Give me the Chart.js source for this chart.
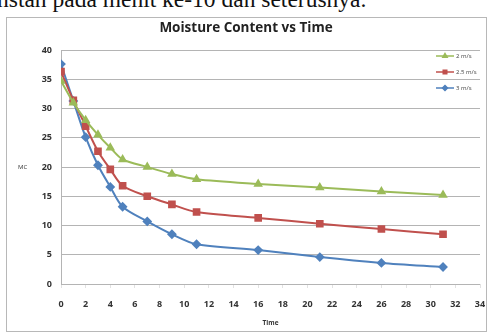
<!DOCTYPE html>
<html>
<head>
<meta charset="utf-8">
<script src="https://cdn.jsdelivr.net/npm/chart.js@4.4.0/dist/chart.umd.min.js"></script>
<style>
  body { margin: 0; background: #fff; width: 489px; height: 334px; overflow: hidden; position: relative; }
  #teks { position: absolute; left: -3px; top: -14px; font-family: 'Liberation Serif', serif; font-size: 23.5px; color: #111; white-space: nowrap; }
  #bingkai { position: absolute; left: 6px; top: 17px; width: 479px; height: 313px; border: 1px solid #b8b8b8; }
</style>
</head>
<body>
<div id="teks">nstan pada menit ke-10 dan seterusnya.</div>
<div id="bingkai"><canvas id="mcChart"></canvas></div>
<script>
// data
const waktu = [0, 1, 2, 3, 4, 5, 7, 9, 11, 16, 21, 26, 31];
const mc2 = [34.7, 31.0, 28.0, 25.5, 23.3, 21.3, 20.0, 18.8, 17.9, 17.1, 16.5, 15.8, 15.2];
const mc25 = [36.3, 31.4, 27.0, 22.7, 19.6, 16.8, 15.0, 13.6, 12.3, 11.3, 10.3, 9.4, 8.5];
const mc3 = [37.6, 31.3, 25.1, 20.3, 16.6, 13.2, 10.7, 8.5, 6.8, 5.8, 4.6, 3.6, 2.9];
const label = ['2 m/s', '2.5 m/s', '3 m/s'];
const xTicks = [0, 2, 4, 6, 8, 10, 12, 14, 16, 18, 20, 22, 24, 26, 28, 30, 32, 34];

const huruf = "'Open Sans', 'Liberation Sans', sans-serif";

function seri(y) {
    return waktu.map((t, i) => ({ x: t, y: y[i] }));
}

// legenda kecil di pojok kanan atas area plot + judul sumbu y mendatar
const legendaKecil = {
    id: 'legendaKecil',
    afterDraw(chart) {
        const ctx = chart.ctx;
        const x0 = chart.chartArea.right - 44;
        chart.data.datasets.forEach((ds, i) => {
            const y = chart.chartArea.top + 6 + i * 16;
            ctx.save();
            ctx.strokeStyle = ds.borderColor;
            ctx.lineWidth = 1.5;
            ctx.beginPath();
            ctx.moveTo(x0, y);
            ctx.lineTo(x0 + 18, y);
            ctx.stroke();
            ctx.fillStyle = ds.backgroundColor;
            ctx.strokeStyle = ds.borderColor;
            Chart.helpers.drawPoint(ctx, { pointStyle: ds.pointStyle, radius: 2.5, rotation: 0, borderWidth: 1 }, x0 + 9, y);
            ctx.fillStyle = '#444';
            ctx.font = '6px ' + huruf;
            ctx.textBaseline = 'middle';
            ctx.fillText(ds.label, x0 + 20, y);
            ctx.restore();
        });
        const ys = chart.scales.y;
        ctx.save();
        ctx.fillStyle = '#333';
        ctx.font = '6px ' + huruf;
        ctx.textBaseline = 'middle';
        ctx.fillText('MC', 11, ys.getPixelForValue(20));
        ctx.restore();
    }
};

new Chart(document.getElementById('mcChart'), {
    type: 'line',
    data: {
        datasets: [
            {
                label: label[0],
                data: seri(mc2),
                borderColor: '#9bbb59',
                backgroundColor: '#9bbb59',
                pointStyle: 'triangle',
                pointRadius: 3.5,
                borderWidth: 2,
                tension: 0.3
            },
            {
                label: label[1],
                data: seri(mc25),
                borderColor: '#c0504d',
                backgroundColor: '#c0504d',
                pointStyle: 'rect',
                pointRadius: 4,
                borderWidth: 2,
                tension: 0.3
            },
            {
                label: label[2],
                data: seri(mc3),
                borderColor: '#4f81bd',
                backgroundColor: '#4f81bd',
                pointStyle: 'rectRot',
                pointRadius: 3.5,
                borderWidth: 2,
                tension: 0.3
            }
        ]
    },
    options: {
        responsive: true,
        maintainAspectRatio: false,
        animation: false,
        layout: { padding: { left: 0, right: 1, top: 0, bottom: 0 } },
        plugins: {
            legend: { display: false },
            tooltip: { enabled: false },
            title: {
                display: true,
                text: 'Moisture Content vs Time',
                color: '#222',
                font: { family: huruf, size: 13.5, weight: 'bold' },
                padding: { top: 2, bottom: 13.8 }
            }
        },
        scales: {
            x: {
                type: 'linear',
                min: 0,
                max: 34,
                afterBuildTicks(axis) {
                    axis.ticks = xTicks.map(v => ({ value: v }));
                },
                grid: { display: true, drawOnChartArea: false, tickLength: 4, tickColor: '#e2e2e2' },
                border: { display: false },
                ticks: {
                    color: '#333',
                    padding: 11,
                    font: { family: huruf, size: 9, weight: 'bold' }
                },
                title: {
                    display: true,
                    text: 'Time',
                    color: '#333',
                    font: { family: huruf, size: 6.5, weight: 'bold' },
                    padding: { top: 6, bottom: 4 }
                },
                afterFit(axis) {
                    axis.height = 47;
                    axis.paddingRight = 0;
                    axis.paddingLeft = 0;
                }
            },
            y: {
                min: 0,
                max: 40,
                ticks: {
                    stepSize: 5,
                    color: '#333',
                    padding: 9,
                    font: { family: huruf, size: 9, weight: 'bold' }
                },
                grid: { color: '#b4b4b4', drawTicks: false },
                border: { color: '#b4b4b4' },
                afterFit(axis) {
                    axis.width = 54;
                    axis.paddingTop = 0;
                    axis.paddingBottom = 0;
                }
            }
        }
    },
    plugins: [legendaKecil]
});
</script>
</body>
</html>
